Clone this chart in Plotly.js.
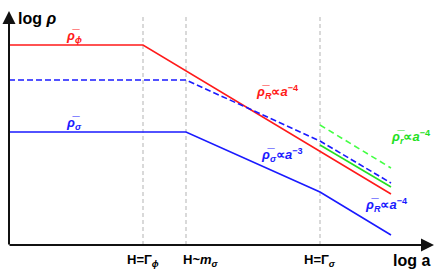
<!DOCTYPE html>
<html>
<head>
<meta charset="utf-8">
<script src="https://cdn.plot.ly/plotly-3.0.1.min.js"></script>
<style>html,body{margin:0;padding:0;background:#fff;}#chart{width:443px;height:275px;}</style>
</head>
<body>
<div id="chart"></div>
<script>
// log a (arbitrary units) and log rho (arbitrary units)
const redX = [0, 134, 382];
const redY = [200, 200, 51];
const blueDashX = [0, 177, 311, 382];
const blueDashY = [165, 165, 104, 62];
const blueX = [0, 177, 311, 382];
const blueY = [113, 113, 53, 10];
const greenX = [311, 382];
const greenY = [100, 58];
const greenDashX = [311, 382];
const greenDashY = [120, 77];
const eventX = [134, 177, 311];
const eventLabels = ['H=Γ<sub><i>ϕ</i></sub>', 'H~<i>m</i><sub><i>σ</i></sub>', 'H=Γ<sub><i>σ</i></sub>'];
const axisTitles = ['log <i>ρ</i>', 'log a'];
const RB = '<i>ρ\u0305</i>';
const curveLabels = [
  RB + '<sub><i>ϕ</i></sub>',
  RB + '<sub><i>σ</i></sub>',
  RB + '<sub><i>R</i></sub>∝<i>a</i><sup>−4</sup>',
  RB + '<sub><i>σ</i></sub>∝<i>a</i><sup>−3</sup>',
  RB + '<sub><i>r</i></sub>∝<i>a</i><sup>−4</sup>',
  RB + '<sub><i>R</i></sub>∝<i>a</i><sup>−4</sup>'
];

const RED = '#ff1a1a', BLUE = '#1a1aff', GREEN = '#22e022', LGREEN = '#44ff44';

const traces = [
  {x: redX, y: redY, mode: 'lines', line: {color: RED, width: 1.6}},
  {x: blueDashX, y: blueDashY, mode: 'lines', line: {color: BLUE, width: 1.6, dash: '6px,3px'}},
  {x: blueX, y: blueY, mode: 'lines', line: {color: BLUE, width: 1.6}},
  {x: greenX, y: greenY, mode: 'lines', line: {color: GREEN, width: 1.6}},
  {x: greenDashX, y: greenDashY, mode: 'lines', line: {color: LGREEN, width: 1.6, dash: '6px,4px'}}
];

const shapes = eventX.map(x => ({
  type: 'line', xref: 'x', yref: 'y', x0: x, x1: x, y0: 0, y1: 230,
  line: {color: '#c0c0c0', width: 1.2, dash: '4px,3px'}, layer: 'below'
}));

const F = 'Liberation Sans, Arial, sans-serif';
const ann = [];
// axes with arrows
ann.push({x: 0, y: 234, ax: 0, ay: -1, axref: 'x', ayref: 'y', xref: 'x', yref: 'y', text: '',
  showarrow: true, arrowhead: 2, arrowsize: 1.3, arrowwidth: 2, arrowcolor: '#111', standoff: 0, startstandoff: 0});
ann.push({x: 425, y: 0, ax: -1, ay: 0, axref: 'x', ayref: 'y', xref: 'x', yref: 'y', text: '',
  showarrow: true, arrowhead: 2, arrowsize: 1.3, arrowwidth: 2, arrowcolor: '#111', standoff: 0, startstandoff: 0});
// axis titles
ann.push({x: 28, y: 227, xref: 'x', yref: 'y', text: '<b>' + axisTitles[0] + '</b>', showarrow: false, font: {family: F, size: 16, color: '#000'}});
ann.push({x: 402, y: -15, xref: 'x', yref: 'y', text: '<b>' + axisTitles[1] + '</b>', showarrow: false, font: {family: F, size: 16, color: '#000'}});
// event labels
const evOff = [0, 15, 0];
eventLabels.forEach((t, i) => ann.push({x: eventX[i] + evOff[i], y: -15, xref: 'x', yref: 'y', text: '<b>' + t + '</b>', showarrow: false, font: {family: F, size: 13, color: '#000'}}));
// curve labels
const lblPos = [[65, 209, RED], [65, 122, BLUE], [268, 153, RED], [273, 90, BLUE], [402, 108, GREEN], [377, 40, BLUE]];
curveLabels.forEach((t, i) => ann.push({x: lblPos[i][0], y: lblPos[i][1], xref: 'x', yref: 'y', text: '<b>' + t + '</b>', showarrow: false, font: {family: F, size: 13, color: lblPos[i][2]}}));

const layout = {
  width: 443, height: 275,
  margin: {l: 0, r: 0, t: 0, b: 0},
  paper_bgcolor: '#fff', plot_bgcolor: '#fff',
  showlegend: false,
  xaxis: {range: [-9, 434], visible: false, fixedrange: true},
  yaxis: {range: [-30, 245], visible: false, fixedrange: true},
  shapes: shapes,
  annotations: ann
};
Plotly.newPlot('chart', traces, layout, {staticPlot: true, displayModeBar: false});
</script>
</body>
</html>
